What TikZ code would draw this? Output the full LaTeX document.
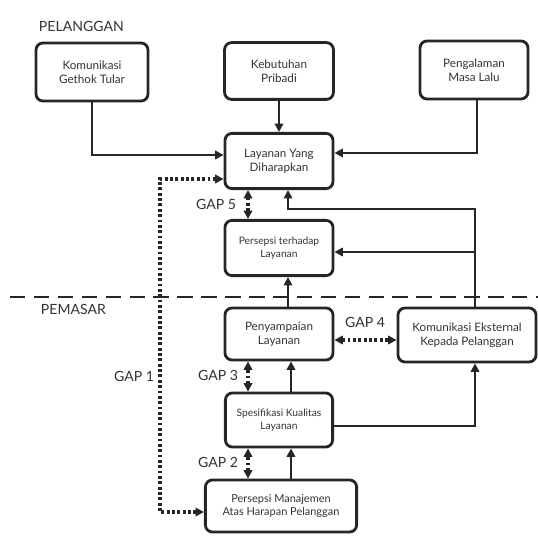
\documentclass[tikz,border=0pt]{standalone}
\usepackage{fontspec}
\setmainfont{Lato}
\usetikzlibrary{arrows.meta}

\begin{document}
\begin{tikzpicture}[x=.025cm,y=-.025cm,
  box/.style={draw=black!85,line width=2pt,rounded corners=5pt,align=center,
    text=black!80,font=\fontsize{8.3}{9.8}\selectfont,inner sep=2pt},
  flow/.style={draw=black!85,line width=1.6pt,-{Triangle[length=6pt,width=6pt]}},
  gap/.style={draw=black!85,line width=2.4pt,dash pattern=on 2pt off 1.8pt,
    {Triangle[length=6pt,width=6pt]}-{Triangle[length=6pt,width=6pt]}},
  gaplabel/.style={text=black!80,font=\fontsize{10}{12}\selectfont}]
\useasboundingbox (0,0) rectangle (538,537);
% Pelanggan side
\node[gaplabel,anchor=west] (pelanggan) at (34,26) {PELANGGAN};
\node[box,minimum width=2.8cm,minimum height=1.45cm] (gethok) at (92,72) {Komunikasi\\Gethok Tular};
\node[box,minimum width=2.72cm,minimum height=1.42cm] (pribadi) at (279,71) {Kebutuhan\\Pribadi};
\node[box,minimum width=2.7cm,minimum height=1.45cm] (masalalu) at (474,70) {Pengalaman\\Masa Lalu};
\node[box,minimum width=2.7cm,minimum height=1.38cm] (harapan) at (279,161) {Layanan Yang\\Diharapkan};
\node[box,minimum width=2.7cm,minimum height=1.38cm,font=\fontsize{7.3}{9.3}\selectfont] (persepsi) at (279,248) {Persepsi terhadap\\Layanan};
% Garis batas
\coordinate (batas-kiri) at (10,297);
\coordinate (batas-kanan) at (538,297);
\draw[black!85,line width=2pt,dash pattern=on 11pt off 6pt] (batas-kiri) -- (batas-kanan);
% Pemasar side
\node[gaplabel,anchor=west] (pemasar) at (36,309) {PEMASAR};
\node[box,minimum width=2.7cm,minimum height=1.3cm] (sampai) at (279,334) {Penyampaian\\Layanan};
\node[box,minimum width=3.45cm,minimum height=1.35cm] (eksternal) at (467,335) {Komunikasi Eksternal\\Kepada Pelanggan};
\node[box,minimum width=2.68cm,minimum height=1.35cm,font=\fontsize{7.3}{9.3}\selectfont] (spesifikasi) at (279,420) {Spesifikasi Kualitas\\Layanan};
\node[box,minimum width=3.78cm,minimum height=1.3cm,font=\fontsize{7.8}{9.8}\selectfont] (manajemen) at (281,506) {Persepsi Manajemen\\Atas Harapan Pelanggan};
% Arrows to harapan
\draw[flow] (gethok.south) |- (harapan.west |- 0,155);
\draw[flow] (pribadi) -- (harapan);
\draw[flow] (masalalu.south -| 477,0) |- (harapan.east |- 0,153);
\draw[flow] (eksternal.north -| 475,0) |- (288,209) -- (harapan.south -| 288,0);
\draw[flow] (475,252) -- (persepsi.east |- 0,252);
% Arrows up the pemasar side
\draw[flow] (sampai.north -| 288,0) -- (persepsi.south -| 288,0);
\draw[flow] (spesifikasi.north -| 291,0) -- (sampai.south -| 291,0);
\draw[flow] (manajemen.north -| 291,0) -- (spesifikasi.south -| 291,0);
\draw[flow] (spesifikasi.east |- 0,426) -| (eksternal.south -| 475,0);
% Gaps
\coordinate (gap1-atas) at (160,179);
\coordinate (gap1-bawah) at (160,512);
\draw[gap] (harapan.west |- gap1-atas) -- (gap1-atas) -- (gap1-bawah) -- (manajemen.west |- gap1-bawah);
\node[gaplabel] (gap1) at (134,376) {GAP 1};
\draw[gap] (manajemen.north -| 248,0) -- (spesifikasi.south -| 248,0);
\node[gaplabel] (gap2) at (218,462) {GAP 2};
\draw[gap] (spesifikasi.north -| 248,0) -- (sampai.south -| 248,0);
\node[gaplabel] (gap3) at (218,375) {GAP 3};
\draw[gap] (sampai.east |- 0,340) -- (eksternal.west |- 0,340);
\node[gaplabel] (gap4) at (365,322) {GAP 4};
\draw[gap] (persepsi.north -| 248,0) -- (harapan.south -| 248,0);
\node[gaplabel] (gap5) at (216,204) {GAP 5};
\end{tikzpicture}
\end{document}
